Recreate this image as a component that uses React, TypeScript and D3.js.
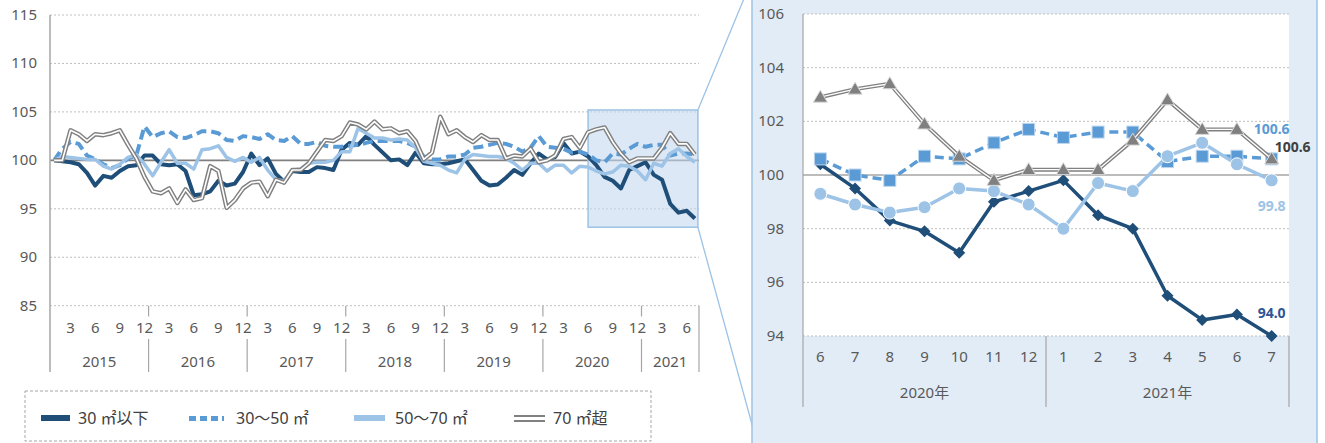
import React from 'react';
import * as d3 from 'd3';

// monthly index, Jan 2015 .. Jul 2021 (2015/1 = 100)
const years = ['2015', '2016', '2017', '2018', '2019', '2020', '2021'];
const monthTicks = [3, 6, 9, 12];

const under30 = [
  100, 99.9, 99.8, 99.6, 98.7, 97.4, 98.4, 98.2, 98.9, 99.4, 99.5, 100.5,
  100.5, 99.6, 99.5, 99.6, 98.9, 96.4, 96.5, 96.8, 97.9, 97.4, 97.6, 98.8,
  100.7, 99.5, 100.2, 98.6, 97.8, 98.9, 98.8, 98.8, 99.3, 99.2, 99.0, 101.1,
  101.8, 101.6, 102.5, 101.6, 100.8, 100.0, 100.1, 99.5, 100.8, 99.7, 99.6, 99.6,
  99.7, 99.9, 100.1, 99.0, 97.9, 97.4, 97.5, 98.2, 99.0, 98.5, 99.7, 100.7,
  100.1, 100.35, 101.8, 100.7, 100.9, 100.4, 99.5, 98.3, 97.9, 97.1, 99.0, 99.4,
  99.8, 98.5, 98.0, 95.5, 94.6, 94.8, 94.0,
];
const from30to50 = [
  100, 101.2, 101.9, 101.7, 100.5, 100.1, 99.6, 99.2, 99.5, 100.2, 100.5, 103.5,
  102.4, 102.8, 103.0, 102.4, 102.3, 102.6, 103.0, 103.0, 102.8, 102.1, 102.0, 102.5,
  102.4, 102.2, 102.7, 102.1, 102.0, 102.5, 101.7, 101.7, 101.9, 101.5, 101.4, 101.4,
  101.5, 101.6, 101.8, 102.0, 102.0, 102.0, 102.0, 101.8, 101.4, 100.4, 100.1, 100.1,
  100.4, 100.4, 100.6, 101.3, 101.4, 101.6, 101.8, 101.7, 101.4, 100.9, 101.3, 102.5,
  101.4, 101.3, 101.2, 100.8, 100.9, 100.6, 100.0, 99.8, 100.7, 100.6, 101.2, 101.7,
  101.4, 101.6, 101.6, 100.5, 100.7, 100.7, 100.6,
];
const from50to70 = [
  100, 100.4, 100.3, 100.2, 100.1, 100.1, 99.4, 99.1, 99.6, 100.3, 100.6, 99.6,
  98.4, 99.8, 101.1, 99.7, 99.7, 99.1, 101.1, 101.2, 101.5, 100.3, 99.9, 100.3,
  99.8, 100.3, 99.0, 98.0, 97.9, 99.0, 99.1, 99.7, 99.8, 99.8, 100.0, 100.9,
  100.9, 103.3, 102.8, 102.3, 102.3, 102.1, 102.2, 102.1, 101.3, 99.9, 99.7, 99.5,
  99.0, 98.7, 100.1, 100.6, 100.5, 100.4, 100.4, 100.2, 99.7, 99.0, 99.7, 99.7,
  98.9, 99.5, 99.5, 98.7, 99.4, 99.3, 98.9, 98.6, 98.8, 99.5, 99.4, 98.9,
  98.0, 99.7, 99.4, 100.7, 101.2, 100.4, 99.8,
];
const over70 = [
  100, 100, 103.1, 102.7, 102.0, 102.7, 102.6, 102.8, 103.1, 101.6, 100.2, 98.3,
  96.8, 96.6, 97.1, 95.6, 97.0, 95.9, 96.1, 99.4, 98.9, 95.1, 95.9, 97.1,
  97.7, 97.8, 96.3, 98.0, 97.7, 99.0, 99.0, 99.7, 100.9, 102.1, 102.0, 102.5,
  103.9, 103.7, 103.2, 104.0, 103.2, 103.3, 102.8, 103.0, 102.0, 100.1, 100.8, 104.5,
  102.7, 103.1, 102.4, 101.9, 102.6, 102.1, 102.1, 100.2, 100.5, 100.4, 101.2, 99.8,
  100.0, 100.5, 102.2, 102.4, 101.3, 102.9, 103.2, 103.4, 101.9, 100.7, 99.8, 100.2,
  100.2, 100.2, 101.3, 102.8, 101.7, 101.7, 100.6,
];

// zoomed panel: Jun 2020 .. Jul 2021
const zoomMonths = ['6', '7', '8', '9', '10', '11', '12', '1', '2', '3', '4', '5', '6', '7'];
const zoomYears = ['2020年', '2021年'];
const leftTicks = [85, 90, 95, 100, 105, 110, 115];
const rightTicks = [94, 96, 98, 100, 102, 104, 106];

const legendNames = ['30 ㎡以下', '30〜50 ㎡', '50〜70 ㎡', '70 ㎡超'];

const font = "'Noto Sans', 'Noto Sans CJK JP', sans-serif";
const txt = '#595959';

const series = [
  { values: under30, color: '#1f4e79', w: 4, dash: '', dbl: false, marker: 'diamond' },
  { values: from30to50, color: '#5b9bd5', w: 4, dash: '10,5', dbl: false, marker: 'square' },
  { values: from50to70, color: '#9dc3e6', w: 3.5, dash: '', dbl: false, marker: 'circle' },
  { values: over70, color: '#808080', w: 4.5, dash: '', dbl: true, marker: 'triangle' },
];

const App: React.FC = () => {
  const n = under30.length;
  const zn = zoomMonths.length;

  // left chart
  const x = d3.scaleBand<number>().domain(d3.range(n)).range([50, 699]);
  const cx = (i: number) => (x(i) as number) + x.bandwidth() / 2;
  const y = d3.scaleLinear().domain([85, 115]).range([305.7, 15]);

  // right chart
  const xr = d3.scaleBand<number>().domain(d3.range(zn)).range([803, 1289]);
  const cxr = (i: number) => (xr(i) as number) + xr.bandwidth() / 2;
  const yr = d3.scaleLinear().domain([94, 106]).range([336, 14]);

  const lineL = d3.line<number>().x((_, i) => cx(i)).y((d) => y(d));
  const lineR = d3.line<number>().x((_, i) => cxr(i)).y((d) => yr(d));

  const yearBounds = years.map((_, k) => [k * 12, Math.min(k * 12 + 12, n)]);
  const edge = (i: number) => (i >= n ? 699 : (x(i) as number));

  // highlight box covering the zoomed months
  const z0 = n - zn;
  const hx0 = cx(z0);
  const hx1 = cx(n - 1) + 3;
  const hy0 = y(105.2);
  const hy1 = y(93.1);

  const marker = (kind: string, px: number, py: number, color: string, key: string) => {
    if (kind === 'diamond') {
      const s = 6;
      return <path key={key} d={`M${px},${py - s}L${px + s},${py}L${px},${py + s}L${px - s},${py}Z`} fill={color} />;
    }
    if (kind === 'square') {
      return <rect key={key} x={px - 6} y={py - 6} width={12} height={12} fill={color} stroke="#bdd7ee" strokeWidth={1} />;
    }
    if (kind === 'circle') {
      return <circle key={key} cx={px} cy={py} r={6.5} fill={color} stroke="#ffffff" strokeWidth={1} />;
    }
    return <path key={key} d={`M${px},${py - 7}L${px + 7},${py + 5}L${px - 7},${py + 5}Z`} fill={color} stroke="#d9d9d9" strokeWidth={1} />;
  };

  const last = zn - 1;

  return (
    <svg width={1325} height={443} style={{ position: 'absolute', left: 0, top: 0, background: '#fff' }} fontFamily={font}>
      {/* ---------- left chart ---------- */}
      {leftTicks.map((t) => (
        <g key={t}>
          {t !== 100 && <line x1={50} x2={699} y1={y(t)} y2={y(t)} stroke="#bfbfbf" strokeDasharray="2,2" />}
          <text x={37} y={y(t) + 5} textAnchor="end" fontSize={15} fill={txt}>{t}</text>
        </g>
      ))}
      <line x1={50} x2={699} y1={y(100)} y2={y(100)} stroke="#808080" strokeWidth={1.6} />
      <line x1={50} x2={50} y1={15} y2={372} stroke="#a6a6a6" strokeWidth={1.5} />
      {yearBounds.map(([a, b], k) => (
        <g key={years[k]}>
          {k > 0 && (
            <>
              <line x1={edge(a)} x2={edge(a)} y1={305.7} y2={316.5} stroke="#a6a6a6" strokeWidth={1.2} />
              <line x1={edge(a)} x2={edge(a)} y1={339} y2={372} stroke="#a6a6a6" strokeWidth={1.2} />
            </>
          )}
          <text x={(edge(a) + edge(b)) / 2} y={367} textAnchor="middle" fontSize={15} fill={txt}>{years[k]}</text>
          {monthTicks.filter((m) => a + m - 1 < b).map((m) => (
            <text key={m} x={cx(a + m - 1)} y={333} textAnchor="middle" fontSize={15} fill={txt}>{m}</text>
          ))}
        </g>
      ))}
      <line x1={699} x2={699} y1={305.7} y2={372} stroke="#a6a6a6" strokeWidth={1.2} />

      <rect x={hx0} y={hy0} width={hx1 - hx0} height={hy1 - hy0} fill="#c5d9ef" fillOpacity={0.6} stroke="#9dc3e6" strokeWidth={1.5} />

      {series.map((s, k) => (
        <g key={k}>
          <path d={lineL(s.values) as string} fill="none" stroke={s.color} strokeWidth={s.w} strokeDasharray={s.dash || undefined} strokeLinejoin="round" />
          {s.dbl && <path d={lineL(s.values) as string} fill="none" stroke="#ffffff" strokeWidth={1.6} strokeLinejoin="round" />}
        </g>
      ))}

      {/* connectors */}
      <line x1={hx1} y1={hy0} x2={760} y2={-40} stroke="#9dc3e6" strokeWidth={1.3} />
      <line x1={hx1} y1={hy1} x2={753} y2={428} stroke="#9dc3e6" strokeWidth={1.3} />

      {/* ---------- right panel ---------- */}
      <rect x={752} y={-5} width={565} height={460} fill="#e1ecf7" stroke="#9dc3e6" strokeWidth={1.5} />
      <rect x={803} y={14} width={486} height={322} fill="#ffffff" />
      {rightTicks.map((t) => (
        <g key={t}>
          {t !== 100 && <line x1={803} x2={1289} y1={yr(t)} y2={yr(t)} stroke="#bfbfbf" strokeDasharray="2,2" />}
          <text x={784} y={yr(t) + 5} textAnchor="end" fontSize={15} fill={txt}>{t}</text>
        </g>
      ))}
      <line x1={803} x2={1289} y1={yr(100)} y2={yr(100)} stroke="#a6a6a6" strokeWidth={1.3} />
      <line x1={803} x2={803} y1={14} y2={407} stroke="#a6a6a6" strokeWidth={1.2} />
      <line x1={xr(7) as number} x2={xr(7) as number} y1={336} y2={407} stroke="#a6a6a6" strokeWidth={1.2} />
      <line x1={1289} x2={1289} y1={336} y2={407} stroke="#a6a6a6" strokeWidth={1.2} />
      {zoomMonths.map((m, i) => (
        <text key={i} x={cxr(i)} y={362} textAnchor="middle" fontSize={15} fill={txt}>{m}</text>
      ))}
      <text x={(803 + (xr(7) as number)) / 2} y={398} textAnchor="middle" fontSize={15} fill={txt}>{zoomYears[0]}</text>
      <text x={((xr(7) as number) + 1289) / 2} y={398} textAnchor="middle" fontSize={15} fill={txt}>{zoomYears[1]}</text>

      {series.map((s, k) => {
        const vals = s.values.slice(z0);
        return (
          <g key={k}>
            <path d={lineR(vals) as string} fill="none" stroke={s.color} strokeWidth={s.dbl ? 4 : 3.5} strokeDasharray={s.dash ? '9,5' : undefined} strokeLinejoin="round" />
            {s.dbl && <path d={lineR(vals) as string} fill="none" stroke="#ffffff" strokeWidth={1.3} strokeLinejoin="round" />}
            {vals.map((v, i) => marker(s.marker, cxr(i), yr(v), s.color, `${k}-${i}`))}
          </g>
        );
      })}

      {/* data labels for the last month */}
      <text x={cxr(last)} y={yr(from30to50[n - 1]) - 25} textAnchor="middle" fontSize={14} fontWeight="bold" fill="#5b9bd5">{from30to50[n - 1].toFixed(1)}</text>
      <text x={cxr(last) + 3} y={yr(over70[n - 1]) - 7} textAnchor="start" fontSize={14} fontWeight="bold" fill="#404040">{over70[n - 1].toFixed(1)}</text>
      <text x={cxr(last)} y={yr(from50to70[n - 1]) + 31} textAnchor="middle" fontSize={14} fontWeight="bold" fill="#9dc3e6">{from50to70[n - 1].toFixed(1)}</text>
      <text x={cxr(last)} y={yr(under30[n - 1]) - 18} textAnchor="middle" fontSize={14} fontWeight="bold" fill="#2f5597">{under30[n - 1].toFixed(1)}</text>

      {/* ---------- legend ---------- */}
      <rect x={25} y={391} width={626} height={50} fill="#ffffff" stroke="#a6a6a6" strokeDasharray="3,2" />
      <rect x={41} y={415} width={29} height={6} fill="#1f4e79" />
      {[0, 1, 2, 3].map((j) => (
        <rect key={j} x={189 + j * 11} y={416} width={j === 3 ? 2 : 7} height={5} fill="#5b9bd5" />
      ))}
      <rect x={354} y={415} width={31} height={6} fill="#9dc3e6" />
      <line x1={514} x2={545} y1={416} y2={416} stroke="#808080" strokeWidth={2} />
      <line x1={514} x2={545} y1={421} y2={421} stroke="#808080" strokeWidth={2} />
      {legendNames.map((name, j) => (
        <text key={name} x={[78, 236, 395, 553][j]} y={424} fontSize={16} fill="#404040">{name}</text>
      ))}
    </svg>
  );
};

export default App;
